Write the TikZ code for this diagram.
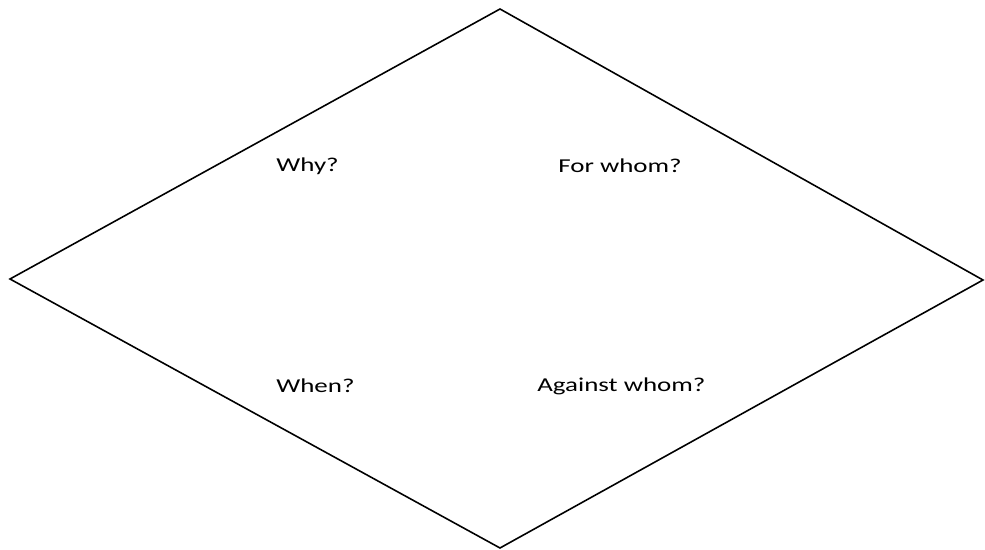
\documentclass[tikz,border=0pt]{standalone}
\usepackage{fontspec}
\setmainfont{Carlito}
\newfontfamily\widefont[FakeStretch=1.37]{Carlito}
\usetikzlibrary{positioning, calc}

\begin{document}
\begin{tikzpicture}[
    x=0.02cm, y=-0.02cm,
    label/.style={anchor=west, inner sep=0pt, font=\widefont\fontsize{11.2}{13}\selectfont},
    edge/.style={draw, line width=0.9pt, line join=miter}
]

% Canvas
\useasboundingbox (0,0) rectangle (985,550);

% Corners of the diamond
\coordinate (top) at (500,9);
\coordinate (left) at (10,279);
\coordinate (right) at (983,280);
\coordinate (bottom) at (500,548);

% Questions
\node[label] (why) at (276,166) {Why?};
\node[label] (forwhom) at (558,166) {For whom?};
\node[label] (when) at (276,386) {When?};
\node[label] (against) at (537,386) {Against whom?};

% Outline
\draw[edge] (top) -- (right) -- (bottom) -- (left) -- cycle;

\end{tikzpicture}
\end{document}
